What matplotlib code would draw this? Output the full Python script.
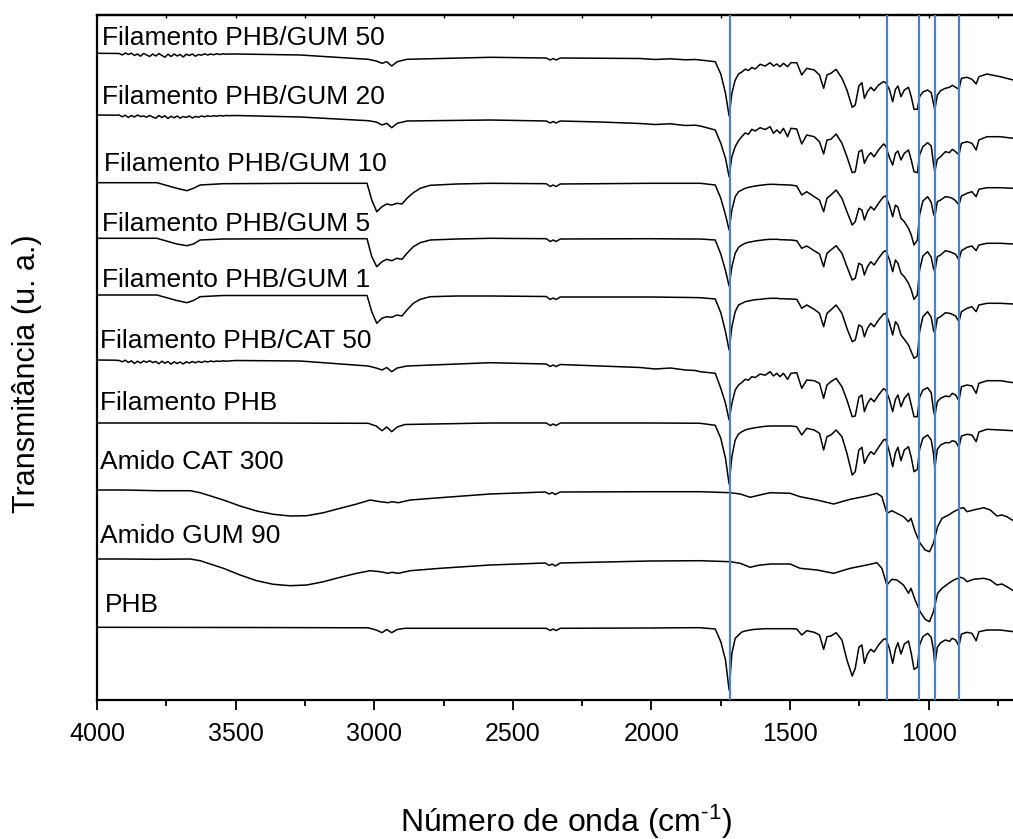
import matplotlib
matplotlib.use("Agg")
import matplotlib.pyplot as plt
from matplotlib.ticker import MultipleLocator, FixedLocator

plt.rcParams['font.family'] = ['Liberation Sans', 'DejaVu Sans']
plt.rcParams['mathtext.fontset'] = 'custom'
plt.rcParams['mathtext.rm'] = 'Liberation Sans'
plt.rcParams['mathtext.it'] = 'Liberation Sans'
plt.rcParams['mathtext.default'] = 'regular'

# ---------------------------------------------------------------------------
# Wavenumber grids (cm^-1)
# ---------------------------------------------------------------------------
# fingerprint region shared by the PHB based samples
WN_FP = [1824, 1770, 1750, 1733, 1720, 1710, 1698, 1686, 1674, 1662,
         1650, 1638, 1626, 1608, 1590, 1572, 1560, 1548, 1536, 1524,
         1509, 1497, 1476, 1458, 1440, 1413, 1394, 1379, 1367, 1353,
         1334, 1313, 1295, 1276, 1265, 1252, 1241, 1232, 1221, 1209,
         1197, 1181, 1163, 1155, 1142, 1130, 1120, 1111, 1100, 1088,
         1073, 1063, 1053, 1041, 1033, 1021, 1004, 991, 983, 978,
         969, 957, 940, 925, 915, 903, 891, 882, 862, 844,
         829, 819, 790, 742, 695]

# high wavenumber region, smooth samples
WN_HI_PLAIN = [4000, 3448, 3022, 2993, 2972, 2955, 2937, 2917, 2889, 2582,
               2380, 2365, 2355, 2344, 2329, 2005, 1860]

# high wavenumber region, samples with a noisy baseline
WN_HI_NOISY = [4000, 3935,
               3920, 3909, 3898, 3887, 3876, 3865, 3854, 3843, 3832, 3821,
               3810, 3799, 3788, 3777, 3766, 3755, 3744, 3733, 3722, 3711,
               3700, 3689, 3678, 3667, 3656, 3645, 3634, 3623, 3612, 3601,
               3590, 3579, 3568, 3557, 3546, 3535, 3524,
               3500, 3267, 3022, 2993, 2972, 2955, 2937, 2917, 2882, 2582,
               2380, 2365, 2355, 2344, 2329, 2185, 2041, 1987, 1932, 1878, 1842]

# high wavenumber region, PHB/GUM 10, 5 and 1 filaments
WN_HI_GUM = [4000, 3784, 3712, 3676, 3652, 3628, 3545, 3267, 3026, 3009,
             2991, 2972, 2955, 2937, 2918, 2900, 2882, 2859, 2834, 2798,
             2702, 2582, 2380, 2365, 2355, 2344, 2329, 2005, 1860]

# full range for the starch samples
WN_STARCH = [4000, 3905, 3784, 3664, 3628, 3544, 3484, 3424, 3364, 3303,
             3243, 3183, 3123, 3063, 3015, 2979, 2949, 2937, 2913, 2870,
             2762, 2582, 2383, 2369, 2358, 2347, 2329, 2005, 1824, 1716,
             1680, 1644, 1614, 1572, 1500, 1464, 1403, 1343, 1283, 1223,
             1187, 1169, 1151, 1133, 1115, 1091, 1073, 1064, 1049, 1031,
             1013, 997, 983, 968, 952, 928, 910, 886, 874, 862,
             838, 802, 778, 754, 736, 718, 695]

# ---------------------------------------------------------------------------
# Transmittance (arbitrary units, stacked)
# ---------------------------------------------------------------------------
gum50_hi = [646.7, 646.5,
            646.5, 645.0, 647.0, 645.5, 646.8, 644.5, 646.0, 643.8, 646.5, 645.0,
            643.5, 646.0, 644.0, 646.5, 644.5, 642.8, 645.8, 643.5, 646.0, 644.0,
            645.5, 643.0, 645.8, 644.5, 646.0, 643.8, 645.5, 644.8, 646.2, 645.0,
            646.0, 645.2, 646.3, 645.5, 646.2, 645.8, 646.0,
            646.0, 645.0, 640.7, 639.0, 636.7, 638.3, 634.0, 638.3, 640.7, 642.7,
            642.0, 640.0, 641.5, 640.0, 642.0, 641.8, 641.5, 640.5, 641.2, 640.2, 640.5]
gum50_fp = [640.0, 638.3, 626.0, 606.7, 584.0, 606.7, 620.0, 626.0, 628.0, 630.8,
            629.5, 632.5, 631.0, 635.7, 634.0, 637.3, 634.0, 636.0, 633.3, 636.7,
            633.3, 637.3, 637.3, 625.0, 631.7, 630.0, 625.0, 611.7, 625.0, 626.7,
            630.7, 621.7, 610.0, 592.7, 595.0, 614.0, 617.3, 601.7, 608.3, 612.7,
            609.3, 615.0, 618.3, 617.3, 610.7, 598.3, 610.7, 614.0, 603.3, 610.0,
            612.7, 603.3, 590.7, 590.7, 603.3, 608.0, 610.0, 607.3, 596.7, 590.0,
            605.0, 609.3, 611.7, 612.7, 614.7, 612.7, 610.7, 621.7, 622.7, 620.7,
            616.0, 623.3, 626.0, 623.3, 620.0]

gum20_hi = [585.0, 584.8,
            585.0, 583.2, 584.8, 582.5, 584.5, 583.0, 585.0, 583.5, 584.0, 582.8,
            584.6, 583.0, 581.8, 584.5, 582.5, 584.2, 581.5, 583.8, 582.2, 584.0,
            581.8, 583.5, 582.5, 584.0, 582.0, 583.6, 582.8, 584.0, 583.2, 584.2,
            583.5, 584.3, 583.8, 584.5, 584.0, 584.5, 584.3,
            584.5, 583.0, 579.3, 578.0, 575.0, 576.7, 572.3, 576.7, 579.0, 580.0,
            579.0, 577.0, 578.5, 577.0, 579.0, 578.0, 576.5, 575.5, 576.2, 574.5, 574.8]
gum20_fp = [574.0, 570.0, 556.7, 541.7, 523.3, 543.3, 553.3, 559.3, 563.5, 567.0,
            565.8, 570.7, 569.0, 572.3, 570.5, 573.3, 566.7, 570.0, 566.7, 571.7,
            563.3, 571.7, 571.0, 556.0, 565.0, 563.3, 558.3, 546.0, 560.0, 560.7,
            566.0, 556.7, 543.3, 527.3, 528.3, 548.3, 550.0, 536.7, 543.3, 547.3,
            543.3, 550.0, 556.0, 554.0, 542.7, 535.0, 546.7, 549.0, 540.0, 546.7,
            550.0, 540.0, 528.3, 527.3, 545.0, 553.3, 557.3, 554.0, 536.7, 528.3,
            540.7, 543.3, 548.3, 547.3, 550.7, 548.3, 545.0, 556.7, 558.3, 556.7,
            550.0, 560.0, 563.3, 563.3, 561.7]

gum10_hi = [517.3, 517.3, 511.7, 509.3, 511.7, 515.0, 516.3, 516.7, 516.7, 500.0,
            488.3, 493.3, 496.0, 495.0, 496.7, 496.0, 501.7, 507.3, 511.7, 514.7,
            516.0, 516.7, 516.3, 513.5, 515.0, 513.5, 516.0, 516.7, 516.7]
gum10_fp = [516.7, 515.0, 501.7, 485.0, 470.0, 490.0, 503.3, 508.3, 510.0, 511.7,
            512.7, 513.3, 514.0, 514.7, 515.3, 515.7, 515.7, 515.5, 515.3, 515.3,
            515.0, 515.0, 514.0, 505.0, 508.3, 503.3, 500.0, 488.3, 501.7, 505.0,
            510.0, 501.7, 488.3, 475.0, 478.3, 491.7, 490.0, 480.0, 488.3, 493.3,
            490.0, 496.7, 503.3, 504.0, 495.0, 483.3, 495.0, 492.7, 481.7, 478.3,
            471.7, 465.0, 455.0, 460.0, 485.0, 499.0, 503.3, 497.7, 486.7, 483.3,
            498.3, 500.0, 503.3, 502.7, 501.7, 499.3, 495.0, 504.0, 506.7, 508.3,
            503.3, 510.7, 512.3, 512.3, 511.7]

gum5_hi = [461.7, 461.7, 456.0, 454.3, 456.0, 460.0, 461.0, 461.3, 461.3, 443.3,
           433.3, 438.3, 440.7, 439.3, 441.7, 440.7, 446.7, 453.3, 457.3, 460.0,
           461.0, 461.7, 461.3, 458.5, 460.0, 458.5, 461.0, 461.3, 461.0]
gum5_fp = [461.0, 460.0, 446.0, 429.3, 414.0, 433.3, 446.7, 452.7, 455.0, 456.7,
           457.7, 458.3, 459.0, 459.7, 460.3, 460.7, 460.7, 460.7, 460.3, 460.3,
           460.0, 460.0, 459.3, 451.7, 454.0, 449.3, 446.0, 433.3, 446.7, 450.0,
           454.3, 446.7, 433.3, 420.0, 421.7, 436.7, 435.0, 425.0, 433.3, 438.3,
           435.0, 441.7, 448.3, 449.3, 440.7, 428.3, 440.0, 436.7, 426.7, 423.3,
           416.7, 410.0, 400.7, 405.0, 430.0, 444.0, 448.3, 442.7, 431.7, 428.3,
           443.3, 445.0, 449.3, 448.3, 447.3, 445.7, 440.0, 449.3, 452.7, 454.0,
           449.3, 455.0, 456.7, 456.7, 456.0]

gum1_hi = [405.0, 405.0, 399.5, 397.3, 399.5, 403.3, 404.5, 404.5, 404.5, 388.3,
           376.7, 381.7, 383.3, 382.7, 385.0, 384.0, 390.0, 396.7, 400.7, 403.3,
           404.0, 404.0, 403.5, 400.5, 402.0, 400.5, 403.0, 403.0, 402.5]
gum1_fp = [402.3, 401.0, 387.3, 368.3, 350.0, 373.3, 388.3, 395.0, 396.7, 398.3,
           399.0, 399.7, 400.3, 400.7, 401.3, 401.7, 401.7, 401.7, 401.3, 401.3,
           401.0, 401.0, 400.7, 391.7, 395.0, 390.7, 386.7, 373.3, 386.7, 390.0,
           395.0, 386.7, 371.7, 358.3, 360.0, 375.0, 373.3, 363.3, 371.7, 376.7,
           373.3, 380.0, 386.0, 386.7, 377.3, 365.0, 378.3, 375.0, 365.0, 360.7,
           355.0, 348.3, 341.7, 344.0, 368.3, 383.3, 388.3, 382.7, 370.0, 366.7,
           381.7, 383.3, 387.3, 386.7, 385.7, 384.0, 378.3, 388.3, 391.7, 393.3,
           388.3, 395.0, 396.7, 396.7, 396.0]

cat50_hi = [340.0, 339.8,
            339.5, 338.2, 339.8, 337.5, 339.2, 336.5, 338.8, 337.0, 339.0, 337.8,
            339.2, 337.5, 338.5, 336.2, 338.8, 336.8, 338.5, 335.8, 338.2, 336.5,
            338.0, 336.0, 338.2, 337.0, 338.5, 337.2, 338.6, 337.5, 338.8, 338.0,
            339.0, 338.3, 339.0, 338.6, 339.2, 338.8, 339.0,
            339.5, 339.0, 334.0, 332.0, 330.0, 332.5, 328.3, 332.0, 334.0, 337.3,
            336.0, 333.5, 335.0, 333.5, 335.5, 334.0, 332.5, 331.0, 332.0, 330.0, 329.5]
cat50_fp = [328.3, 326.7, 311.7, 296.7, 280.0, 296.7, 310.0, 315.0, 317.5, 320.7,
            319.8, 323.3, 322.5, 326.0, 324.8, 328.3, 324.0, 326.7, 323.3, 326.7,
            320.7, 326.7, 327.3, 311.7, 320.0, 319.3, 316.7, 301.7, 315.0, 318.3,
            321.7, 313.3, 300.0, 283.3, 284.0, 302.7, 305.0, 288.3, 296.7, 301.7,
            298.3, 305.0, 311.3, 310.0, 300.7, 288.3, 300.7, 305.0, 293.3, 301.7,
            306.7, 295.0, 283.3, 283.3, 302.7, 310.0, 312.3, 307.3, 290.0, 284.0,
            298.3, 301.7, 304.0, 303.3, 306.7, 305.0, 299.3, 313.3, 315.0, 314.0,
            306.7, 316.7, 319.3, 319.3, 317.3]

fil_phb_hi = [277.0, 277.0, 276.7, 274.0, 269.3, 273.0, 268.3, 273.0, 275.5, 277.0,
              277.0, 274.5, 276.0, 274.5, 277.0, 277.0, 276.8]
fil_phb_fp = [276.7, 274.7, 261.7, 241.7, 216.0, 243.3, 260.0, 266.0, 268.3, 270.0,
              271.0, 271.7, 272.3, 273.0, 273.7, 274.0, 274.0, 274.0, 274.0, 274.0,
              274.0, 274.0, 273.3, 265.0, 271.7, 270.0, 266.7, 250.0, 263.3, 265.0,
              270.0, 263.3, 246.7, 225.0, 228.3, 250.0, 252.7, 236.7, 243.3, 248.3,
              245.7, 252.7, 260.0, 260.7, 248.3, 233.3, 247.3, 252.7, 239.3, 250.0,
              253.3, 242.7, 228.3, 230.7, 250.7, 261.7, 265.0, 260.0, 246.7, 231.7,
              250.7, 255.0, 257.3, 257.3, 259.3, 258.3, 252.7, 264.0, 265.7, 265.0,
              258.3, 268.0, 270.7, 270.0, 269.3]

cat300 = [210.0, 210.0, 209.3, 209.3, 207.3, 200.0, 194.0, 189.0, 185.7, 184.0,
          184.3, 187.3, 191.7, 196.0, 200.0, 198.3, 197.3, 198.3, 197.3, 200.0,
          202.3, 206.0, 208.0, 206.0, 207.5, 205.5, 208.0, 208.3, 208.3, 207.3,
          206.0, 202.7, 204.7, 207.3, 206.7, 203.3, 200.0, 196.0, 200.7, 204.0,
          206.7, 203.3, 186.7, 189.3, 186.7, 183.3, 178.3, 181.7, 168.3, 156.7,
          150.0, 148.3, 156.7, 173.3, 181.7, 185.0, 188.3, 191.7, 192.3, 188.3,
          190.0, 192.3, 190.0, 184.0, 185.0, 183.3, 179.3]

gum90 = [141.0, 141.0, 140.7, 141.0, 139.3, 131.7, 125.0, 119.3, 115.7, 114.3,
         115.0, 118.3, 122.7, 126.7, 129.3, 128.3, 126.7, 127.7, 126.7, 129.3,
         131.7, 135.0, 137.0, 134.5, 136.0, 134.0, 137.0, 139.0, 139.3, 138.3,
         136.7, 132.7, 134.7, 136.0, 136.0, 131.7, 130.0, 126.7, 131.7, 135.0,
         137.3, 131.7, 115.0, 120.7, 120.0, 115.0, 106.7, 111.7, 100.0, 88.3,
         80.7, 78.3, 88.3, 106.7, 111.7, 116.7, 120.0, 122.7, 121.7, 118.3,
         120.7, 121.7, 120.0, 115.0, 116.0, 113.3, 109.3]

phb_hi = [72.7, 72.5, 72.2, 70.0, 67.3, 70.5, 67.3, 70.5, 71.7, 71.7,
          71.7, 69.5, 71.0, 69.5, 71.7, 72.0, 72.3]
phb_fp = [72.3, 71.0, 58.3, 40.0, 10.0, 46.7, 61.7, 65.0, 68.0, 69.0,
          69.7, 70.3, 70.7, 71.0, 71.3, 71.3, 71.3, 71.3, 71.3, 71.3,
          71.3, 71.3, 71.0, 65.0, 69.3, 67.7, 65.0, 50.7, 63.3, 64.0,
          67.3, 60.0, 40.0, 24.0, 31.7, 52.7, 55.0, 36.7, 46.0, 50.7,
          48.0, 55.0, 60.7, 61.3, 51.7, 36.7, 50.7, 57.3, 46.0, 56.0,
          59.0, 46.7, 30.7, 32.7, 55.0, 63.3, 66.7, 62.7, 50.0, 35.0,
          52.7, 57.3, 60.0, 58.7, 61.7, 60.0, 54.0, 66.0, 67.7, 66.7,
          59.3, 68.3, 70.0, 70.0, 68.3]

# sample names and label positions (figure pixels: left x, baseline y)
LABELS = ["Filamento PHB/GUM 50", "Filamento PHB/GUM 20", "Filamento PHB/GUM 10",
          "Filamento PHB/GUM 5", "Filamento PHB/GUM 1", "Filamento PHB/CAT 50",
          "Filamento PHB", "Amido CAT 300", "Amido GUM 90", "PHB"]
LABEL_X = [102, 102, 104, 102, 102, 100, 100, 100, 100, 105]
LABEL_Y = [45, 104, 171, 231, 287, 348, 410, 469, 543, 612]

# characteristic bands marked with vertical lines
MARKERS = [1718, 1150, 1034, 976, 890]

SPECTRA = [
    (WN_HI_NOISY + WN_FP, gum50_hi + gum50_fp),
    (WN_HI_NOISY + WN_FP, gum20_hi + gum20_fp),
    (WN_HI_GUM + WN_FP, gum10_hi + gum10_fp),
    (WN_HI_GUM + WN_FP, gum5_hi + gum5_fp),
    (WN_HI_GUM + WN_FP, gum1_hi + gum1_fp),
    (WN_HI_NOISY + WN_FP, cat50_hi + cat50_fp),
    (WN_HI_PLAIN + WN_FP, fil_phb_hi + fil_phb_fp),
    (WN_STARCH, cat300),
    (WN_STARCH, gum90),
    (WN_HI_PLAIN + WN_FP, phb_hi + phb_fp),
]

W, H = 1013, 839
fig = plt.figure(figsize=(W / 100, H / 100), dpi=100)
ax = fig.add_axes([97 / W, 1 - 700 / H, 1 - 97 / W, 685 / H])

for wn, t in SPECTRA:
    ax.plot(wn, t, color='black', lw=1.1, zorder=2)

for v in MARKERS:
    ax.axvline(v, color='#4F81BD', lw=1.6, zorder=3)

ax.set_xlim(4000, 696)
ax.set_ylim(0, 685)
ax.set_yticks([])

ax.xaxis.set_major_locator(FixedLocator([4000, 3500, 3000, 2500, 2000, 1500, 1000]))
ax.xaxis.set_minor_locator(MultipleLocator(250))
ax.tick_params(axis='x', which='major', direction='out', length=7, width=1.3,
               labelsize=18, pad=9)
ax.tick_params(axis='x', which='minor', direction='out', length=4.5, width=1.3)

for side in ('left', 'bottom', 'top'):
    ax.spines[side].set_linewidth(1.6)
ax.spines['right'].set_visible(False)

top = ax.secondary_xaxis('top')
top.xaxis.set_major_locator(MultipleLocator(250))
top.tick_params(axis='x', which='both', direction='in', length=2.5, width=1.0,
                labeltop=False)
top.spines['top'].set_linewidth(1.6)

for name, x, y in zip(LABELS, LABEL_X, LABEL_Y):
    fig.text(x / W, 1 - y / H, name, fontsize=19, ha='left', va='baseline')

fig.text(566 / W, 1 - 832 / H, 'Número de onda (cm$^{\\text{-1}}$)', fontsize=23,
         ha='center', va='baseline')
fig.text(27.5 / W, 1 - 374 / H, 'Transmitância (u. a.)', fontsize=22,
         rotation=90, ha='center', va='center')

fig.savefig('out.png', dpi=100)
